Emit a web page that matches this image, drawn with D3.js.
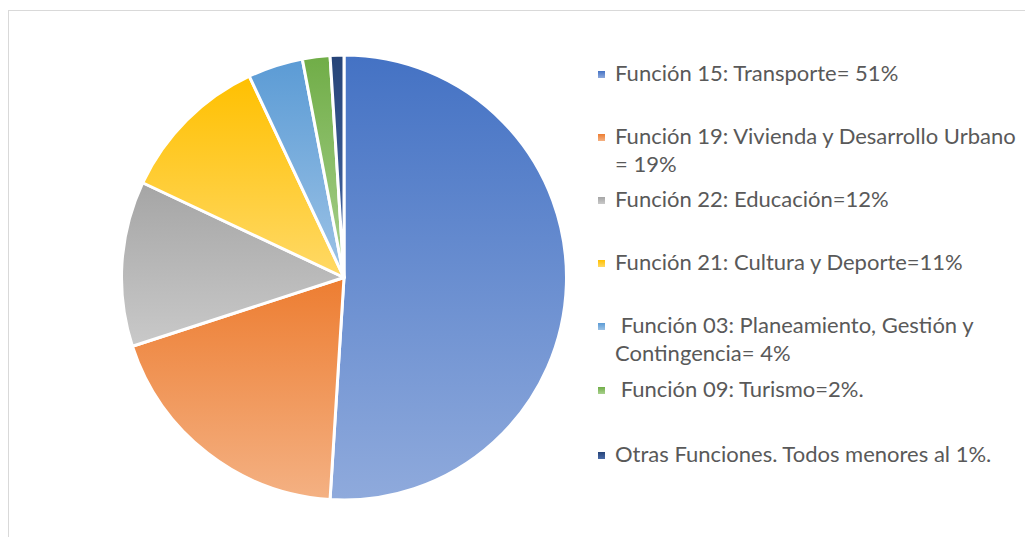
<!DOCTYPE html>
<html>
<head>
<meta charset="utf-8">
<script src="https://cdn.jsdelivr.net/npm/d3@7"></script>
<style>
  body { margin: 0; background: #fff; }
  svg { display: block; }
  .legend text { font-family: Lato, "Open Sans", sans-serif; font-size: 22px; fill: #595959; }
</style>
</head>
<body>
<svg class="chart" width="1025" height="537"></svg>
<script>
// legend lines for each slice (some wrap on two lines)
var labels = [
  ["Función 15: Transporte= 51%"],
  ["Función 19: Vivienda y Desarrollo Urbano", "= 19%"],
  ["Función 22: Educación=12%"],
  ["Función 21: Cultura y Deporte=11%"],
  [" Función 03: Planeamiento, Gestión y", "Contingencia= 4%"],
  [" Función 09: Turismo=2%."],
  ["Otras Funciones. Todos menores al 1%."]
];
var values = [51, 19, 12, 11, 4, 2, 1];
var topColors = ["#4472C4", "#ED7D31", "#A5A5A5", "#FFC000", "#5B9BD5", "#70AD47", "#264478"];
var bottomColors = ["#8FAADC", "#F4B183", "#C9C9C9", "#FFD966", "#9DC3E6", "#A9D18E", "#4A6BA8"];
// baseline of first line of each legend entry
var legendY = [81, 144, 207, 270, 333, 397, 462];

var svg = d3.select('.chart');

// light frame, open on the right/bottom (cropped)
svg.append('rect')
    .attr('x', 8.5)
    .attr('y', 10.5)
    .attr('width', 1100)
    .attr('height', 600)
    .attr('fill', 'none')
    .attr('stroke', '#d9d9d9');

var defs = svg.append('defs');
values.forEach(function (v, i) {
    var g = defs.append('linearGradient')
        .attr('id', 'grad' + i)
        .attr('x1', 0).attr('y1', 0)
        .attr('x2', 0).attr('y2', 1);
    g.append('stop').attr('offset', '0%').attr('stop-color', topColors[i]);
    g.append('stop').attr('offset', '100%').attr('stop-color', bottomColors[i]);
});

var cx = 344, cy = 277.5, radius = 222.5;

var pie = d3.pie().sort(null).value(function (d) { return d; });
var arc = d3.arc().innerRadius(0).outerRadius(radius);

var main = svg.append('g')
    .attr('transform', 'translate(' + cx + ',' + cy + ')');

main.selectAll('path')
    .data(pie(values))
    .enter().append('path')
    .attr('d', arc)
    .attr('fill', function (d, i) { return 'url(#grad' + i + ')'; })
    .attr('stroke', '#fff')
    .attr('stroke-width', 3)
    .attr('stroke-linejoin', 'round');

// legend
var legend = svg.append('g').attr('class', 'legend');
var items = legend.selectAll('g')
    .data(labels)
    .enter().append('g');

items.append('rect')
    .attr('x', 598)
    .attr('y', function (d, i) { return legendY[i] - 10; })
    .attr('width', 7)
    .attr('height', 7)
    .attr('fill', function (d, i) { return 'url(#grad' + i + ')'; });

items.each(function (lines, i) {
    var t = d3.select(this).append('text')
        .attr('x', 615)
        .attr('y', legendY[i])
        .attr('xml:space', 'preserve');
    lines.forEach(function (line, k) {
        t.append('tspan')
            .attr('x', 615)
            .attr('dy', k === 0 ? 0 : 28)
            .text(line);
    });
});
</script>
</body>
</html>
